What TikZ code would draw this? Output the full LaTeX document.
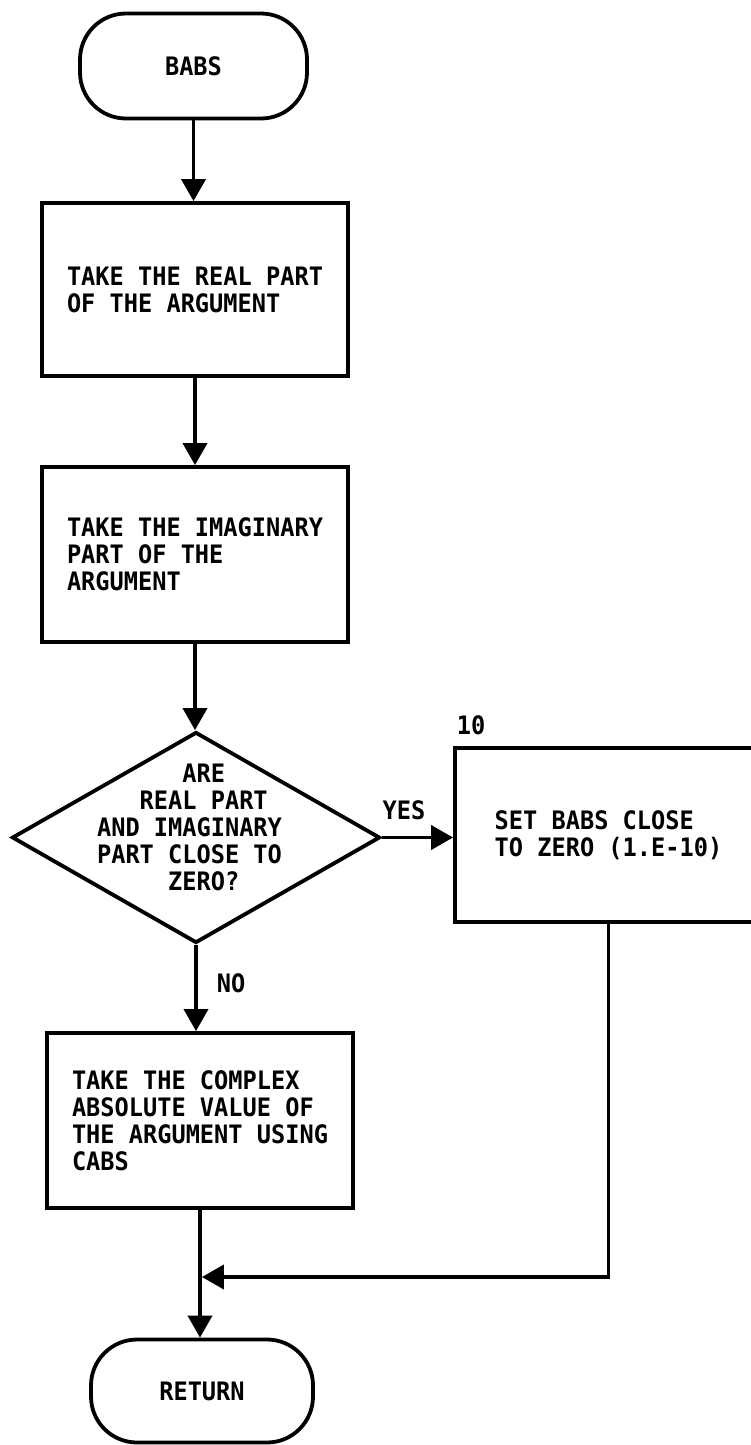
\documentclass[tikz,border=0pt]{standalone}
\usepackage{fontspec}
% condensed monospaced sans, like a line-printer face
\setmonofont{DejaVu Sans Mono}[FakeStretch=0.93]
\usetikzlibrary{arrows.meta,shapes.geometric}
\begin{document}
\begin{tikzpicture}[x=1pt,y=-1pt,
  every node/.style={font=\ttfamily\bfseries\fontsize{25.4pt}{27pt}\selectfont},
  flowline/.style={line width=3.8pt},
  arrowline/.style={flowline,-{Triangle[length=22pt,width=24pt]}},
  terminal/.style={draw,line width=3.8pt,rounded corners=46pt,inner sep=0pt},
  process/.style={draw,line width=3.8pt,align=left,inner sep=0pt},
  decision/.style={draw,diamond,line width=3.8pt,inner sep=0pt},
  tag/.style={inner sep=0pt}]

% page background and extent
\fill[white] (0,0) rectangle (751,1445);
\useasboundingbox (0,0) rectangle (751,1445);

% terminals
\node[terminal, minimum width=227pt, minimum height=105pt] (start) at (193.5,66) {BABS};
\node[terminal, minimum width=222pt, minimum height=103pt] (ret) at (202,1391) {RETURN};

% processing steps
\node[process, minimum width=306pt, minimum height=173pt] (r1) at (195,289.5)
  {TAKE THE REAL PART\\OF THE ARGUMENT};
\node[process, minimum width=306pt, minimum height=175pt] (r2) at (195,554.5)
  {TAKE THE IMAGINARY\\PART OF THE\\ARGUMENT};
\node[process, minimum width=307pt, minimum height=174pt] (r3) at (608.5,835)
  {SET BABS CLOSE\\TO ZERO (1.E-10)};
\node[process, minimum width=306pt, minimum height=175pt] (r4) at (200,1120.5)
  {TAKE THE COMPLEX\\ABSOLUTE VALUE OF\\THE ARGUMENT USING\\CABS};

% test
\node[decision, minimum width=368pt, minimum height=211pt] (d) at (196,837.5)
  {\makebox[0pt]{\kern-13pt\smash{\begin{tabular}{@{}l@{}}
    \hphantom{000000}ARE\\
    \hphantom{000}REAL PART\\
    AND IMAGINARY\\
    PART CLOSE TO\\
    \hphantom{00000}ZERO?
  \end{tabular}}}};

% labels
\node[tag] (ten) at (471,725) {10};
\node[tag] (yes) at (404,810) {YES};
\node[tag] (no) at (231,983) {NO};

% flow lines
\draw[arrowline] (start.south) -- (start.south |- r1.north);
\draw[arrowline] (r1.south) -- (r1.south |- r2.north);
\draw[arrowline] (r2.south) -- (r2.south |- d.north);
\draw[arrowline] (d.east) -- (d.east -| r3.west);
\draw[arrowline] (d.south) -- (d.south |- r4.north);
\draw[arrowline] (r4.south) -- (r4.south |- ret.north);
\coordinate (turn) at (608.5,1277);
\draw[arrowline, shorten >=1.9pt] (r3.south) -- (turn) -- (turn -| r4.south);
\end{tikzpicture}
\end{document}
